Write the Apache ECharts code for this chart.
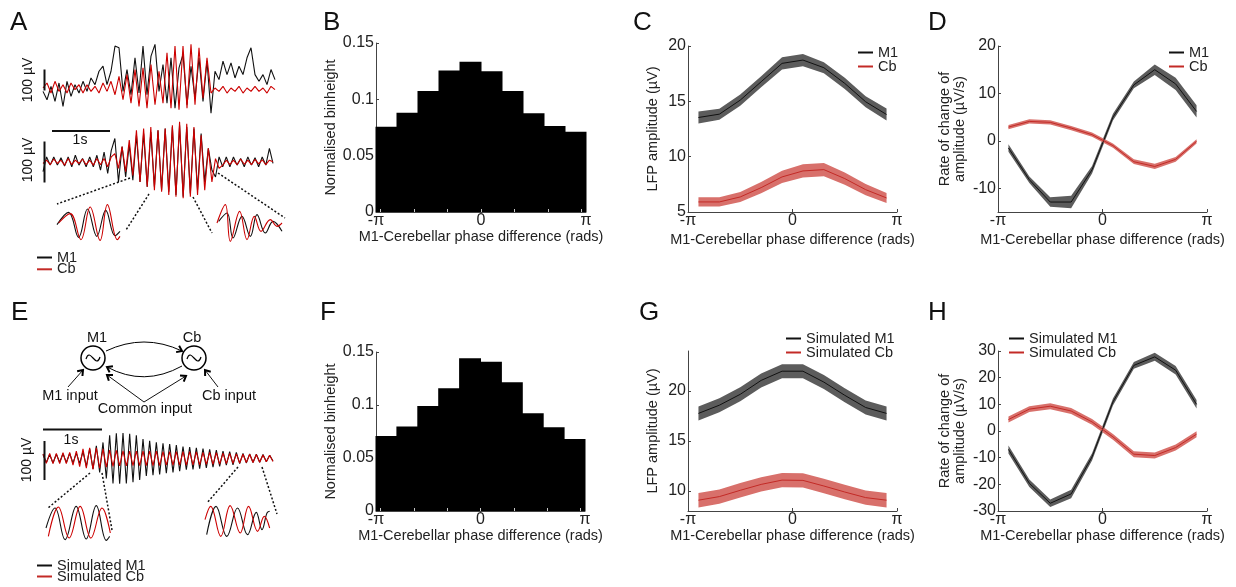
<!DOCTYPE html>
<html>
<head>
<meta charset="utf-8">
<title>M1-Cerebellar phase difference</title>
<script src="https://cdn.jsdelivr.net/npm/echarts@6/dist/echarts.min.js"></script>
<style>
  html, body { margin: 0; padding: 0; background: #fff; }
  #chart { width: 1236px; height: 587px; }
</style>
</head>
<body>
<div id="chart"></div>
<script>
const FONT = 'Liberation Sans, Arial, Helvetica, sans-serif';
const BLACK = '#111111';
const RED = '#cc0000';
const GREY_BAND = '#5c5c5c';
const RED_LINE = '#c32a26';
const RED_BAND = '#d8706b';

// phase bin centres, in units of pi
const phaseBins = [-0.9, -0.7, -0.5, -0.3, -0.1, 0.1, 0.3, 0.5, 0.7, 0.9];
const phaseLabels = ['-π', '0', 'π'];

// B / F : normalised bin heights
const histRecorded = [0.0757, 0.0882, 0.1075, 0.1256, 0.1334, 0.125, 0.1075, 0.0876, 0.0763, 0.0713];
const histSimulated = [0.0708, 0.0796, 0.099, 0.1157, 0.144, 0.1409, 0.1214, 0.0921, 0.0789, 0.0679];

// C : LFP amplitude (uV), mean and sem
const ampM1 = [13.54, 13.84, 15.11, 16.77, 18.43, 18.73, 18.04, 16.62, 14.96, 13.81];
const ampM1Err = [0.55, 0.5, 0.5, 0.5, 0.55, 0.55, 0.5, 0.5, 0.5, 0.55];
const ampCb = [5.91, 5.91, 6.36, 7.2, 8.17, 8.71, 8.83, 8.02, 7.02, 6.27];
const ampCbErr = [0.42, 0.42, 0.45, 0.5, 0.55, 0.6, 0.6, 0.55, 0.5, 0.45];

// D : rate of change of amplitude (uV/s)
const rateM1 = [-1.5, -8.2, -12.9, -12.9, -6.1, 5.0, 11.8, 15.0, 12.0, 6.2];
const rateM1Err = [0.8, 0.7, 1.0, 1.3, 0.8, 0.7, 0.7, 1.1, 1.3, 1.3];
const rateCb = [2.9, 4.1, 3.9, 2.7, 1.3, -1.0, -4.4, -5.4, -3.9, -0.1];
const rateCbErr = [0.45, 0.45, 0.45, 0.45, 0.45, 0.45, 0.5, 0.55, 0.5, 0.45];

// G : simulated LFP amplitude
const simAmpM1 = [17.76, 18.58, 19.67, 21.06, 21.98, 21.98, 20.89, 19.57, 18.35, 17.76];
const simAmpM1Err = [0.7, 0.7, 0.7, 0.7, 0.7, 0.7, 0.7, 0.7, 0.7, 0.7];
const simAmpCb = [9.08, 9.44, 10.07, 10.66, 11.09, 11.06, 10.5, 9.9, 9.34, 9.08];
const simAmpCbErr = [0.72, 0.72, 0.72, 0.72, 0.72, 0.72, 0.72, 0.72, 0.72, 0.72];

// H : simulated rate of change
const simRateM1 = [-6.9, -19.6, -27.1, -23.6, -9.7, 10.9, 24.6, 27.8, 22.8, 10.0];
const simRateM1Err = [1.5, 1.4, 1.4, 1.6, 1.4, 1.3, 1.3, 1.5, 1.6, 1.6];
const simRateCb = [4.3, 8.2, 9.3, 7.5, 3.4, -2.2, -8.7, -9.2, -6.2, -1.2];
const simRateCbErr = [1.1, 1.1, 1.1, 1.1, 1.1, 1.1, 1.1, 1.1, 1.1, 1.1];

// A : recorded traces (uV, one sample every ~70 ms)
const traceTopM1 = [-16, -56, 8, -64, 24, -88, 32, -40, 16, -24, 32, -16, 48, 16, 80, 104, 16, 80, 200, 192,
  -16, 88, -32, 144, -24, 200, -32, 152, 208, -16, 112, -72, 144, -96, 96, 160, -80, 104, -48, 144,
  -64, 128, -120, 80, 40, 128, 64, 120, 48, 104, 64, 144, 192, 64, 32, 64, 16, 88, 40];
const traceTopCb = [0, 24, -24, 32, -16, 16, -24, 24, -8, 16, -24, 16, -16, 8, -24, 24, -16, 32, -32, 56,
  -56, 64, -72, 88, -88, 96, -96, 112, -80, 80, -72, 168, -96, 200, -104, 200, -96, 208, -80, 192,
  -48, 144, -24, 0, -16, 8, -24, 0, -16, 8, -24, 0, -16, 8, -16, 0, -24, 8, -8];
const traceBottomM1 = [-24, 12, -8, 12, -8, 10, -10, 12, -12, 16, -8, 8, -12, 12, -12, 16, -20, 24, -28, 28,
  57, -49, 37, -37, 41, -45, 65, -49, 69, -61, 73, -61, 77, -69, 81, -73, 85, -81, 89, -85,
  85, -77, 81, -69, 69, -49, 33, -20, -37, 12, -12, 12, -12, 12, -8, 8, -12, 12, -8, 10,
  -12, 12, -8, 33, -4];
const traceBottomCb = [-4, 4, -7, 7, -4, 4, -8, 8, -7, 4, -4, 7, -7, 4, -8, 8, -7, 8, -12, 12,
  20, -16, 37, -24, 53, -33, 77, -49, 81, -61, 85, -69, 77, -73, 81, -81, 89, -85, 98, -89,
  93, -85, 85, -81, 65, -69, 33, -49, 8, -16, -8, 4, -7, 4, -7, 7, -6, 4, -7, 6,
  -5, 5, -7, 4, 0];
// A insets: [time, amplitude]
const insetA1M1 = [[20, -5], [55, 32], [85, -43], [112, 42], [140, -40], [167, 38], [195, -38], [210, -25]];
const insetA1Cb = [[25, 0], [60, 28], [92, -50], [120, 48], [150, -52], [172, 55], [202, -50], [210, -40]];
const insetA2M1 = [[505, 5], [530, 30], [548, -45], [575, 20], [600, -40], [620, 25], [645, -30], [668, 5], [695, -25]];
const insetA2Cb = [[500, 0], [525, 55], [540, -55], [568, 35], [590, -50], [612, 20], [632, -25], [660, 10], [680, -10], [695, 0]];

// E : simulated traces
const simTraceM1 = [10, -11, 10, -12, 11, -10, 12, -11, 13, -12, 14, -13,
  18, -21, 25, -28, 33, -37, 42,
  -53, 61, -66, 66, -67, 67, -66, 65, -63, 61, -57, 51, -46,
  46, -44, 42, -42, 40, -39, 38, -37, 35, -34,
  31, -30, 30, -29, 28, -27, 26, -25, 24, -23, 22, -21, 19, -18,
  18, -17, 16, -14, 13, -12, 12, -11, 11, -10, 10, -9, 8, -7];
const simTraceCb = [12, -13, 13, -14, 13, -14, 15, -14, 16, -18,
  19, -22, 25, -26, 28, -29, 28, -26, 25, -23,
  22, -21, 21, -20, 20, -20, 19, -19, 19, -19, 19, -19, 19, -19,
  19, -19, 18, -18, 18, -18, 18, -18, 18, -18, 18, -17, 17, -17, 16, -16, 16, -16, 15, -15, 14, -14,
  13, -13, 12, -12, 11, -11, 11, -11, 10, -10, 9, -9, 8, -8];
const insetE1M1 = [[138, -15], [165, 45], [195, -50], [228, 50], [258, -48], [288, 52], [318, -52], [328, -40]];
const insetE1Cb = [[145, -40], [175, 48], [207, -45], [240, 50], [272, -45], [305, 45], [330, -30]];
const insetE2M1 = [[620, -35], [648, 50], [680, -40], [712, 45], [742, -35], [768, 32], [785, -20], [800, 30], [808, 35]];
const insetE2Cb = [[615, 10], [632, 50], [662, -40], [690, 52], [720, -30], [745, 50], [772, -25], [792, 20], [808, -15]];

const binX = phaseBins.map(p => p * Math.PI);
const halfBin = Math.PI / phaseBins.length;
const withPhase = ys => binX.map((x, i) => [x, ys[i]]);
const withIndex = ys => ys.map((v, i) => [i, v]);

const chart = echarts.init(document.getElementById('chart'));

// grid i uses xAxis i and yAxis i
const grids = [
  { left: 376, top: 43, width: 210, height: 169 },   // 0 B
  { left: 688, top: 46, width: 209, height: 166 },   // 1 C
  { left: 998, top: 46, width: 209, height: 166 },   // 2 D
  { left: 376, top: 352, width: 209, height: 159 },  // 3 F
  { left: 688, top: 351, width: 209, height: 160 },  // 4 G
  { left: 998, top: 351, width: 209, height: 160 },  // 5 H
  { left: 43, top: 40, width: 232, height: 78 },     // 6 A top trace
  { left: 43, top: 118, width: 230, height: 84 },    // 7 A bottom trace
  { left: 57, top: 203, width: 63, height: 40 },     // 8 A inset left
  { left: 217, top: 203, width: 65, height: 40 },    // 9 A inset right
  { left: 43, top: 428, width: 230, height: 60 },    // 10 E trace
  { left: 45, top: 503, width: 67, height: 40 },     // 11 E inset left
  { left: 204, top: 503, width: 67, height: 40 }     // 12 E inset right
];

const textBase = { fontFamily: FONT, color: '#222' };

function phaseAxis(gridIndex, nameGap, ticks, tickColor) {
  return {
    type: 'value', gridIndex, min: -Math.PI, max: Math.PI, z: 10,
    name: 'M1-Cerebellar phase difference (rads)', nameLocation: 'middle', nameGap,
    nameTextStyle: Object.assign({ fontSize: 14.5 }, textBase),
    axisLine: { onZero: false, lineStyle: { color: '#444', width: 1 } },
    axisTick: { inside: true, length: 3, customValues: ticks, lineStyle: { color: tickColor || '#444' } },
    axisLabel: Object.assign({
      customValues: [-Math.PI, 0, Math.PI], margin: 1, fontSize: 16,
      formatter: v => phaseLabels[v < -1 ? 0 : (v > 1 ? 2 : 1)]
    }, textBase),
    splitLine: { show: false }
  };
}

function yValueAxis(gridIndex, min, max, name, nameGap, extra) {
  const ax = {
    type: 'value', gridIndex, min, max,
    name, nameLocation: 'middle', nameGap,
    nameTextStyle: Object.assign({ fontSize: 14.5, lineHeight: 15 }, textBase),
    axisLine: { show: true, onZero: false, lineStyle: { color: '#444', width: 1 } },
    axisTick: { show: true, inside: true, length: 3, lineStyle: { color: '#444' } },
    axisLabel: Object.assign({ margin: 2, fontSize: 16 }, textBase),
    splitLine: { show: false }
  };
  if (extra && extra.values) {
    ax.axisLabel.customValues = extra.values;
    ax.axisTick.customValues = extra.values;
  }
  if (extra && extra.interval) ax.interval = extra.interval;
  return ax;
}

function hiddenAxis(gridIndex, min, max) {
  return { type: 'value', gridIndex, min, max, show: false };
}

const intTicks = [-3, -2, -1, 0, 1, 2, 3];
const edgeTicks = [-Math.PI, 0, Math.PI];
const xAxis = [
  phaseAxis(0, 17.5, intTicks, '#c8c8c8'),
  phaseAxis(1, 20, edgeTicks),
  phaseAxis(2, 20, edgeTicks),
  phaseAxis(3, 11.5, intTicks, '#c8c8c8'),
  phaseAxis(4, 17, edgeTicks),
  phaseAxis(5, 17, edgeTicks),
  hiddenAxis(6, 0, traceTopM1.length - 1),
  hiddenAxis(7, 0, traceBottomM1.length - 1),
  hiddenAxis(8, 20, 210),
  hiddenAxis(9, 500, 695),
  hiddenAxis(10, 0, simTraceM1.length - 1),
  hiddenAxis(11, 135, 335),
  hiddenAxis(12, 612, 812)
];

const rateName = 'Rate of change of\namplitude (µV/s)';
const yAxis = [
  yValueAxis(0, 0, 0.15, 'Normalised binheight', 36.5, { interval: 0.05 }),
  yValueAxis(1, 5, 20, 'LFP amplitude (µV)', 27.5, { interval: 5 }),
  yValueAxis(2, -15, 20, rateName, 30.5, { values: [-10, 0, 10, 20] }),
  yValueAxis(3, 0, 0.15, 'Normalised binheight', 36.5, { interval: 0.05 }),
  yValueAxis(4, 8, 24, 'LFP amplitude (µV)', 27.5, { values: [10, 15, 20] }),
  yValueAxis(5, -30, 30, rateName, 30.5, { interval: 10 }),
  hiddenAxis(6, -143, 229),
  hiddenAxis(7, -98, 107),
  hiddenAxis(8, -60, 60),
  hiddenAxis(9, -60, 60),
  hiddenAxis(10, -78, 80),
  hiddenAxis(11, -60, 60),
  hiddenAxis(12, -60, 60)
];

function histogram(g, heights) {
  return {
    type: 'custom', name: 'bins', xAxisIndex: g, yAxisIndex: g, z: 2,
    data: heights.map((h, i) => [binX[i], h]),
    encode: { x: 0, y: 1 },
    renderItem: function (params, api) {
      const x = api.value(0), h = api.value(1);
      const p0 = api.coord([x - halfBin, h]);
      const p1 = api.coord([x + halfBin, 0]);
      // small overlap so neighbouring bins join without seams
      return { type: 'rect', shape: { x: p0[0] - 0.5, y: p0[1], width: p1[0] - p0[0] + 1, height: p1[1] - p0[1] }, style: { fill: '#000' } };
    }
  };
}

function band(name, g, mean, err, color) {
  return {
    type: 'custom', name, xAxisIndex: g, yAxisIndex: g, silent: true, z: 1,
    data: mean.map((m, i) => [binX[i], m - err[i], m + err[i]]),
    encode: { x: 0, y: [1, 2] },
    renderItem: function (params, api) {
      if (params.dataIndex !== 0) return;
      const upper = mean.map((m, i) => api.coord([binX[i], m + err[i]]));
      const lower = mean.map((m, i) => api.coord([binX[i], m - err[i]])).reverse();
      return { type: 'polygon', shape: { points: upper.concat(lower) }, style: { fill: color } };
    }
  };
}

function meanLine(name, g, ys, color) {
  return {
    type: 'line', name, xAxisIndex: g, yAxisIndex: g, z: 3,
    data: withPhase(ys), showSymbol: false, color,
    lineStyle: { color, width: 1 }
  };
}

function trace(name, g, data, color, smooth) {
  return {
    type: 'line', name, xAxisIndex: g, yAxisIndex: g, z: 3,
    data, showSymbol: false, color, smooth: smooth || false,
    lineStyle: { color, width: 1.1 }
  };
}

const series = [
  histogram(0, histRecorded),
  histogram(3, histSimulated),

  band('M1 sem', 1, ampM1, ampM1Err, GREY_BAND),
  band('Cb sem', 1, ampCb, ampCbErr, RED_BAND),
  meanLine('M1', 1, ampM1, BLACK),
  meanLine('Cb', 1, ampCb, RED_LINE),

  band('M1 sem', 2, rateM1, rateM1Err, GREY_BAND),
  band('Cb sem', 2, rateCb, rateCbErr, RED_BAND),
  meanLine('M1', 2, rateM1, BLACK),
  meanLine('Cb', 2, rateCb, RED_LINE),

  band('Sim M1 sem', 4, simAmpM1, simAmpM1Err, GREY_BAND),
  band('Sim Cb sem', 4, simAmpCb, simAmpCbErr, RED_BAND),
  meanLine('Simulated M1', 4, simAmpM1, BLACK),
  meanLine('Simulated Cb', 4, simAmpCb, RED_LINE),

  band('Sim M1 sem', 5, simRateM1, simRateM1Err, GREY_BAND),
  band('Sim Cb sem', 5, simRateCb, simRateCbErr, RED_BAND),
  meanLine('Simulated M1', 5, simRateM1, BLACK),
  meanLine('Simulated Cb', 5, simRateCb, RED_LINE),

  trace('M1', 6, withIndex(traceTopM1), BLACK),
  trace('Cb', 6, withIndex(traceTopCb), RED),
  trace('M1', 7, withIndex(traceBottomM1), BLACK),
  trace('Cb', 7, withIndex(traceBottomCb), RED),
  trace('M1', 8, insetA1M1, BLACK, 0.4),
  trace('Cb', 8, insetA1Cb, RED, 0.4),
  trace('M1', 9, insetA2M1, BLACK, 0.4),
  trace('Cb', 9, insetA2Cb, RED, 0.4),

  trace('Simulated M1', 10, withIndex(simTraceM1), BLACK),
  trace('Simulated Cb', 10, withIndex(simTraceCb), RED),
  trace('Simulated M1', 11, insetE1M1, BLACK, 0.4),
  trace('Simulated Cb', 11, insetE1Cb, RED, 0.4),
  trace('Simulated M1', 12, insetE2M1, BLACK, 0.4),
  trace('Simulated Cb', 12, insetE2Cb, RED, 0.4)
];

function legendAt(names, left, top, gap) {
  return {
    data: names, left, top, width: 160, height: 60, orient: 'vertical', icon: 'rect',
    itemWidth: 15, itemHeight: 2, itemGap: gap, padding: 0, selectedMode: false,
    textStyle: { fontSize: 14.5, fontFamily: FONT, color: '#222' }
  };
}

const legend = [
  legendAt(['M1', 'Cb'], 37, 250, -3.2),
  legendAt(['M1', 'Cb'], 858, 45, -1),
  legendAt(['M1', 'Cb'], 1169, 45, -1),
  legendAt(['Simulated M1', 'Simulated Cb'], 37, 558, -4),
  legendAt(['Simulated M1', 'Simulated Cb'], 786, 331, -1),
  legendAt(['Simulated M1', 'Simulated Cb'], 1009, 331, -1)
];

// ---- annotations (letters, scale bars, zoom guides, circuit sketch) ----
function txt(s, x, y, size, align, rot) {
  return {
    type: 'text', x, y, rotation: rot || 0, z: 20,
    style: { text: s, x: 0, y: 0, fontSize: size, fontFamily: FONT, fill: '#111',
      align: align || 'center', verticalAlign: 'middle', textAlign: align || 'center', textVerticalAlign: 'middle' }
  };
}
function seg(x1, y1, x2, y2, w, dash) {
  return {
    type: 'line', z: 20, shape: { x1, y1, x2, y2 },
    style: { stroke: '#111', lineWidth: w || 1, lineDash: dash || null }
  };
}
function arrowHead(tx, ty, fx, fy) {
  const a = Math.atan2(ty - fy, tx - fx), s = 6, w = Math.PI / 5;
  return {
    type: 'polyline', z: 20,
    shape: { points: [[tx - s * Math.cos(a - w), ty - s * Math.sin(a - w)], [tx, ty], [tx - s * Math.cos(a + w), ty - s * Math.sin(a + w)]] },
    style: { stroke: '#000', lineWidth: 2, fill: null }
  };
}
function oscillator(cx, cy) {
  return [
    { type: 'circle', z: 20, shape: { cx, cy, r: 12 }, style: { stroke: '#000', lineWidth: 1.5, fill: '#fff' } },
    { type: 'bezierCurve', z: 21, shape: { x1: cx - 7, y1: cy + 1, cpx1: cx - 3, cpy1: cy - 12, cpx2: cx + 3, cpy2: cy + 12, x2: cx + 7, y2: cy - 1 },
      style: { stroke: '#000', lineWidth: 1.2, fill: null } }
  ];
}

const dotted = [2, 2];
const graphic = [
  txt('A', 10, 23, 26, 'left'), txt('B', 323, 23, 26, 'left'), txt('C', 633, 23, 26, 'left'), txt('D', 928, 23, 26, 'left'),
  txt('E', 11, 313, 26, 'left'), txt('F', 320, 313, 26, 'left'), txt('G', 639, 313, 26, 'left'), txt('H', 928, 313, 26, 'left'),

  // A scale bars
  seg(44.5, 69.5, 44.5, 90.5, 2), txt('100 µV', 28, 80, 14, 'center', Math.PI / 2),
  seg(44.5, 141.5, 44.5, 182.5, 2), txt('100 µV', 28, 160, 14, 'center', Math.PI / 2),
  seg(52, 131, 110, 131, 2), txt('1s', 80, 140, 14),
  // A zoom guides
  seg(130, 178, 57, 204, 1.5, dotted), seg(149, 194, 126, 230, 1.5, dotted),
  seg(193, 197, 212, 233, 1.5, dotted), seg(218, 173, 285, 218, 1.5, dotted),

  // E scale bars
  seg(43, 429.5, 102, 429.5, 2), txt('1s', 71, 440, 14),
  seg(44.5, 441, 44.5, 480, 2), txt('100 µV', 27, 460, 14, 'center', Math.PI / 2),
  // E zoom guides
  seg(90, 473, 48, 508, 1.5, dotted), seg(102, 473, 112, 530, 1.5, dotted),
  seg(238, 467, 207, 503, 1.5, dotted), seg(262, 467, 277, 514, 1.5, dotted),

  // E circuit sketch
  txt('M1', 97, 338, 14.5), txt('Cb', 192, 338, 14.5),
  txt('M1 input', 70, 396, 14.5), txt('Cb input', 229, 396, 14.5), txt('Common input', 145, 409, 14.5),
  { type: 'bezierCurve', z: 20, shape: { x1: 106, y1: 351, cpx1: 144, cpy1: 333, x2: 182, y2: 351 }, style: { stroke: '#000', lineWidth: 1, fill: null } },
  arrowHead(182, 351, 144, 333),
  { type: 'bezierCurve', z: 20, shape: { x1: 182, y1: 366, cpx1: 144, cpy1: 387, x2: 107, y2: 367 }, style: { stroke: '#000', lineWidth: 1, fill: null } },
  arrowHead(107, 367, 144, 387),
  seg(68, 387, 83, 370, 1), arrowHead(83, 370, 68, 387),
  seg(218, 387, 205, 370, 1), arrowHead(205, 370, 218, 387),
  seg(144, 402, 107, 375, 1), arrowHead(107, 375, 144, 402),
  seg(144, 402, 186, 376, 1), arrowHead(186, 376, 144, 402)
].concat(oscillator(93, 358), oscillator(194, 358));

chart.setOption({
  animation: false,
  backgroundColor: '#fff',
  grid: grids,
  xAxis,
  yAxis,
  legend,
  series,
  graphic
});
</script>
</body>
</html>
